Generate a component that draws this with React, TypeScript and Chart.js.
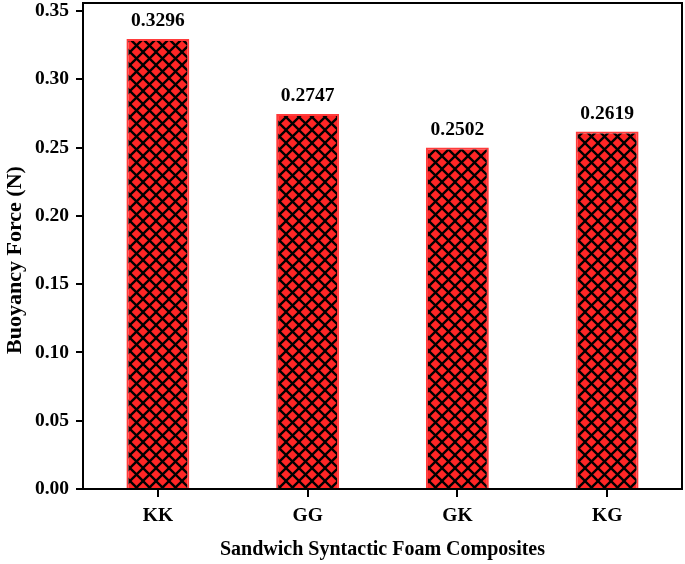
import React, { useEffect, useRef } from "react";
import { Chart, registerables } from "chart.js";

Chart.register(...registerables);

const categories = ["KK", "GG", "GK", "KG"];
const buoyancy = [0.3296, 0.2747, 0.2502, 0.2619];
const valueLabels = ["0.3296", "0.2747", "0.2502", "0.2619"];
const yTicks = [0, 0.05, 0.1, 0.15, 0.2, 0.25, 0.3, 0.35];
const yMax = 0.356;
const yTitle = "Buoyancy Force (N)";
const xTitle = "Sandwich Syntactic Foam Composites";

const FONT = "'Liberation Serif', 'Times New Roman', serif";

function makePattern(): CanvasPattern | string {
  const s = 13;
  const c = document.createElement("canvas");
  c.width = s;
  c.height = s;
  const g = c.getContext("2d");
  if (!g) return "#ff2a2a";
  g.fillStyle = "#ff2626";
  g.fillRect(0, 0, s, s);
  g.strokeStyle = "#000";
  g.lineWidth = 2.3;
  for (const off of [-s, 0, s]) {
    g.beginPath();
    g.moveTo(off, 0);
    g.lineTo(off + s, s);
    g.stroke();
    g.beginPath();
    g.moveTo(off, s);
    g.lineTo(off + s, 0);
    g.stroke();
  }
  const ctx = document.createElement("canvas").getContext("2d");
  return ctx ? (ctx.createPattern(c, "repeat") as CanvasPattern) : "#ff2a2a";
}

const framePlugin = {
  id: "frame",
  afterDraw(chart: any) {
    const { ctx, chartArea } = chart;
    const xs = chart.scales.x;
    ctx.save();
    ctx.strokeStyle = "#000";
    ctx.lineWidth = 2;
    ctx.strokeRect(chartArea.left, chartArea.top, chartArea.right - chartArea.left, chartArea.bottom - chartArea.top);
    // x tick marks at category centres
    ctx.beginPath();
    xs.ticks.forEach((_t: any, i: number) => {
      const px = Math.round(xs.getPixelForTick(i));
      ctx.moveTo(px, chartArea.bottom);
      ctx.lineTo(px, chartArea.bottom + 8);
    });
    ctx.stroke();
    // y axis title
    ctx.fillStyle = "#000";
    ctx.font = `bold 22px ${FONT}`;
    ctx.textAlign = "center";
    ctx.textBaseline = "middle";
    ctx.translate(15, chartArea.bottom - 229);
    ctx.rotate(-Math.PI / 2);
    ctx.fillText(yTitle, 0, 0);
    ctx.restore();
  },
};

const labelPlugin = {
  id: "valueLabels",
  afterDatasetsDraw(chart: any) {
    const { ctx } = chart;
    const meta = chart.getDatasetMeta(0);
    ctx.save();
    ctx.fillStyle = "#000";
    ctx.font = `bold 19.5px ${FONT}`;
    ctx.textAlign = "center";
    ctx.textBaseline = "bottom";
    meta.data.forEach((bar: any, i: number) => {
      ctx.fillText(valueLabels[i], bar.x, bar.y - 8);
    });
    ctx.restore();
  },
};

export default function App() {
  const ref = useRef<HTMLCanvasElement | null>(null);
  useEffect(() => {
    if (!ref.current) return;
    const pattern = makePattern();
    const chart = new Chart(ref.current, {
      type: "bar",
      data: {
        labels: categories,
        datasets: [
          {
            data: buoyancy,
            backgroundColor: pattern as any,
            borderColor: "#ff3b3b",
            borderWidth: 2,
            barPercentage: 0.42,
            categoryPercentage: 1,
          },
        ],
      },
      options: {
        responsive: false,
        animation: false,
        devicePixelRatio: 1,
        layout: { padding: { top: 3, right: 3, left: 0, bottom: 0 } },
        plugins: { legend: { display: false }, tooltip: { enabled: false } },
        scales: {
          x: {
            grid: { display: false },
            border: { display: true, color: "#000", width: 2 },
            ticks: { color: "#000", padding: 7, font: { family: FONT, size: 19.5, weight: "bold" } },
            title: {
              display: true,
              text: xTitle,
              color: "#000",
              font: { family: FONT, size: 20, weight: "bold" },
              padding: { top: 0, bottom: 2 },
            },
            afterFit(scale: any) {
              scale.height = 75;
              scale.paddingLeft = 0;
              scale.paddingRight = 0;
            },
          },
          y: {
            min: 0,
            max: yMax,
            grid: { display: true, drawOnChartArea: false, drawTicks: true, tickLength: 7, color: "#000", lineWidth: 2 },
            border: { display: true, color: "#000", width: 2 },
            ticks: {
              color: "#000",
              padding: 7,
              font: { family: FONT, size: 19.5, weight: "bold" },
              callback: (v: any) => Number(v).toFixed(2),
            },
            afterBuildTicks(scale: any) {
              scale.ticks = yTicks.map((v) => ({ value: v }));
            },
            title: { display: false },
            afterFit(scale: any) {
              scale.width = 83;
              scale.paddingTop = 0;
              scale.paddingBottom = 0;
            },
          },
        },
      },
      plugins: [framePlugin, labelPlugin],
    });
    return () => chart.destroy();
  }, []);
  return (
    <div style={{ position: "fixed", left: 0, top: 0, width: 685, height: 564, background: "#fff" }}>
      <canvas ref={ref} width={685} height={564} style={{ width: 685, height: 564 }} />
    </div>
  );
}
